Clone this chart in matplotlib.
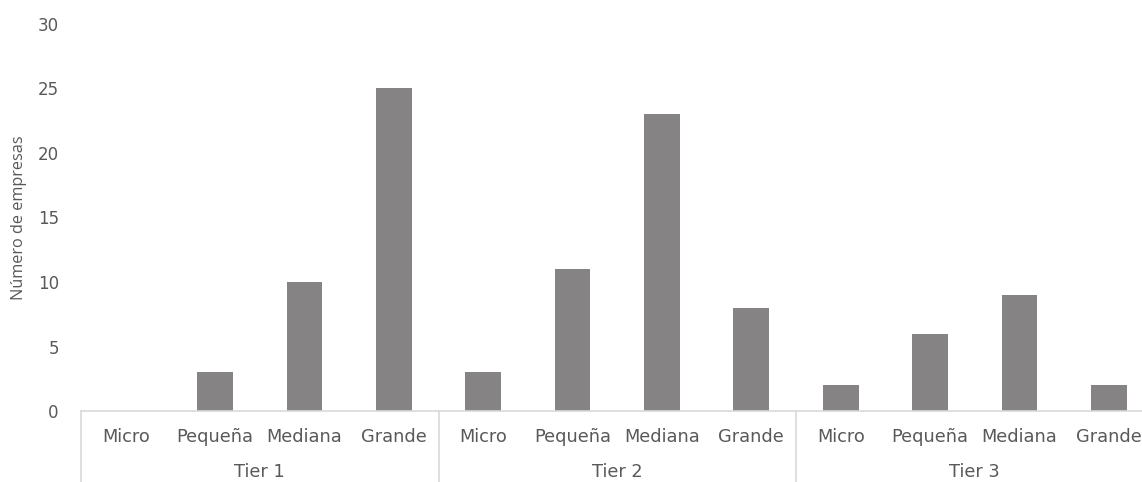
import matplotlib.pyplot as plt
import matplotlib.transforms as mtransforms
import numpy as np

tiers = ['Tier 1', 'Tier 2', 'Tier 3']
sizes = ['Micro', 'Pequeña', 'Mediana', 'Grande']
tier1 = [0, 3, 10, 25]
tier2 = [3, 11, 23, 8]
tier3 = [2, 6, 9, 2]
yticks = [0, 5, 10, 15, 20, 25, 30]

W, H = 1142, 482
fig = plt.figure(figsize=(W / 100, H / 100), dpi=100)
# axis spans a bit past the right edge of the picture, like the original
ax = fig.add_axes([81 / W, 71 / H, (1153.5 - 81) / W, 387 / H])

text_col = '#595959'
line_col = '#d9d9d9'
bar_col = '#858383'

values = tier1 + tier2 + tier3
n = len(values)
x = np.arange(n) + 0.5
ax.bar(x, values, width=0.4, color=bar_col)

ax.set_xlim(0, n)
ax.set_ylim(0, 30)
ax.set_yticks(yticks)
ax.tick_params(axis='y', length=0, pad=16, labelsize=12, labelcolor=text_col)
ax.set_xticks([])
for s in ['top', 'right', 'left']:
    ax.spines[s].set_visible(False)
ax.spines['bottom'].set_color(line_col)
ax.spines['bottom'].set_linewidth(1.2)

ax.set_ylabel('Número de empresas', fontsize=11.7, color=text_col,
              family='Open Sans')
ax.yaxis.set_label_coords(-54 / (1153.5 - 81), 0.5)

trans = mtransforms.blended_transform_factory(ax.transData, ax.transAxes)
px = 1 / 387
for g, tier in enumerate(tiers):
    for k, s in enumerate(sizes):
        ax.text(g * 4 + k + 0.5, -26 * px, s, transform=trans, ha='center',
                va='center', fontsize=12.8, color=text_col)
    ax.text(g * 4 + 2, -61 * px, tier, transform=trans, ha='center',
            va='center', fontsize=12.8, color=text_col)
    ax.plot([g * 4, g * 4], [0, -75 * px], transform=trans, color=line_col,
            lw=1.2, clip_on=False)

plt.savefig('out.png', dpi=100)
